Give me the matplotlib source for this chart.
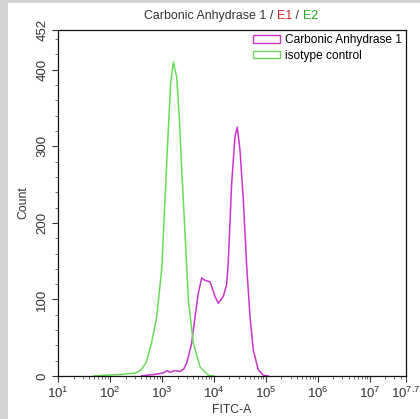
import matplotlib
matplotlib.use("Agg")
import matplotlib.pyplot as plt
from matplotlib.patches import Patch, Rectangle
from matplotlib.ticker import FixedLocator, MultipleLocator, LogLocator, NullFormatter
import numpy as np

plt.rcParams['font.family'] = ['Liberation Sans', 'DejaVu Sans']
plt.rcParams['mathtext.fontset'] = 'custom'
plt.rcParams['mathtext.rm'] = 'Liberation Sans'
plt.rcParams['mathtext.it'] = 'Liberation Sans:italic'

# ---- data (log10 of FITC-A, counts) ----
iso_log = [1.7, 1.9, 2.2, 2.5, 2.6, 2.7, 2.8, 2.9, 3.0, 3.06, 3.12, 3.17, 3.22,
           3.285, 3.335, 3.38, 3.445, 3.51, 3.605, 3.734, 3.894, 4.0]
iso_cnt = [0, 1, 2, 4, 8, 18, 43, 77, 142, 230, 317, 383, 410,
           391, 338, 273, 187, 99, 43, 12, 1, 0]

ca_log = [2.6, 2.708, 2.85, 3.027, 3.1, 3.156, 3.25, 3.349, 3.42, 3.478, 3.574,
          3.638, 3.701, 3.767, 3.83, 3.926, 4.023, 4.086, 4.183, 4.248, 4.279,
          4.344, 4.408, 4.452, 4.504, 4.568, 4.633, 4.697, 4.76, 4.856, 4.953, 5.05]
ca_cnt = [0, 1, 2, 4, 7, 5, 7, 6, 9, 17, 43, 77, 108, 128, 125, 123, 104, 95,
          104, 120, 150, 252, 313, 325, 295, 230, 143, 77, 34, 8, 1, 0]

x_tick_exps = [1, 2, 3, 4, 5, 6, 7, 7.7]
x_tick_labels = [r'$10^{1}$', r'$10^{2}$', r'$10^{3}$', r'$10^{4}$', r'$10^{5}$',
                 r'$10^{6}$', r'$10^{7}$', r'$10^{7.7}$']
y_ticks = [0, 100, 200, 300, 400, 452]
y_tick_labels = ['0', '100', '200', '300', '400', '452']

series_labels = ['Carbonic Anhydrase 1', 'isotype control']
series_colors = ['#cc33cc', '#66dd55']

W, H = 420, 419
fig = plt.figure(figsize=(W / 100, H / 100), dpi=100)
# gray borders
fig.patches.append(Rectangle((0, 0), 8 / W, 1, transform=fig.transFigure,
                             facecolor='#d4d4d4', edgecolor='none', zorder=0))
fig.patches.append(Rectangle((0, 1 - 3 / H), 1, 3 / H, transform=fig.transFigure,
                             facecolor='#d4d4d4', edgecolor='none', zorder=0))

ax = fig.add_axes([58 / W, 1 - 376 / H, (406 - 58) / W, (376 - 30) / H])
ax.set_xscale('log')
ax.plot(10 ** np.array(ca_log), ca_cnt, color=series_colors[0], lw=1.1)
ax.plot(10 ** np.array(iso_log), iso_cnt, color=series_colors[1], lw=1.1)
ax.set_xlim(10 ** 1, 10 ** 7.7)
ax.set_ylim(0, 452)

ax.xaxis.set_major_locator(FixedLocator([10 ** e for e in x_tick_exps]))
ax.set_xticklabels(x_tick_labels)
ax.xaxis.set_minor_locator(LogLocator(base=10, subs=np.arange(2, 10)))
ax.xaxis.set_minor_formatter(NullFormatter())
ax.yaxis.set_major_locator(FixedLocator(y_ticks))
ax.set_yticklabels(y_tick_labels, rotation=90, va='center')
ax.yaxis.set_minor_locator(MultipleLocator(20))

ax.tick_params(which='major', length=4, width=0.8, labelsize=9.5, colors='#333333', pad=3)
ax.tick_params(which='minor', length=2, width=0.6, color='#555555')
ax.tick_params(axis='both', labelcolor='#333333')
for s in ax.spines.values():
    s.set_linewidth(0.9)
    s.set_color('#111111')

ax.set_ylabel('Count', fontsize=8.8, color='#333333', labelpad=5)
ax.set_xlabel('FITC-A', fontsize=8.8, color='#333333', labelpad=2)

handles = [Patch(facecolor='none', edgecolor=c, lw=1.0) for c in series_colors]
ax.legend(handles, series_labels, loc='upper right', frameon=False, fontsize=8.6,
          handlelength=2.2, handleheight=0.6, handletextpad=0.45, labelspacing=0.3,
          borderaxespad=0.1, borderpad=0.25)

# multi-colored title
parts = [('Carbonic Anhydrase 1 / ', '#333333'), ('E1', '#dd2222'),
         (' / ', '#333333'), ('E2', '#22aa22')]
renderer = fig.canvas.get_renderer()
texts = []
widths = []
for s, c in parts:
    t = fig.text(0, 0, s, fontsize=8.9, color=c, va='center', ha='left')
    bb = t.get_window_extent(renderer)
    texts.append(t)
    widths.append(bb.width)
total = sum(widths)
x0 = 231 - total / 2
ty = 1 - 16 / H
for t, w in zip(texts, widths):
    t.set_position((x0 / W, ty))
    x0 += w

fig.savefig('out.png', dpi=100)
